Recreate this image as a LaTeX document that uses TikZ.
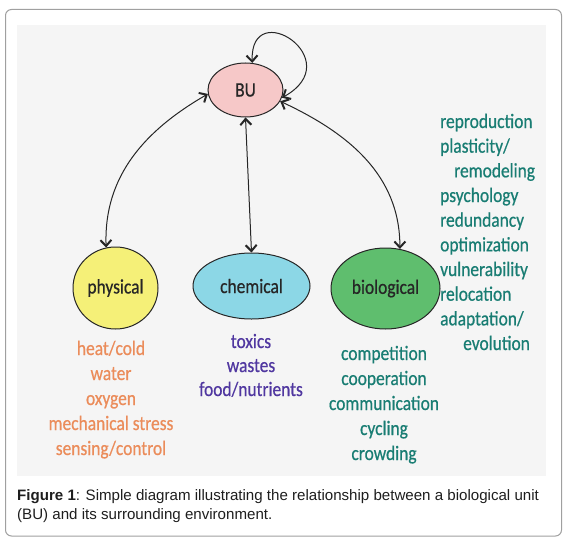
\documentclass[tikz,border=0pt]{standalone}
\usepackage{fontspec}
\setmainfont{Liberation Sans}
\newfontfamily\dfont[FakeStretch=0.85,FakeBold=0.6]{Carlito}
\newfontfamily\capfont{Liberation Sans}
\usetikzlibrary{arrows.meta,shapes.geometric}
\definecolor{tealtx}{RGB}{25,125,115}
\definecolor{orangetx}{RGB}{235,140,90}
\definecolor{purpletx}{RGB}{80,55,160}
\definecolor{bufill}{RGB}{246,200,200}
\definecolor{phyfill}{RGB}{245,240,120}
\definecolor{chemfill}{RGB}{140,215,230}
\definecolor{biofill}{RGB}{95,190,110}
\definecolor{bgc}{RGB}{245,245,245}
\definecolor{framec}{RGB}{160,160,160}
\definecolor{captx}{RGB}{30,30,30}
\begin{document}
\begin{tikzpicture}[x=1pt,y=1pt,
  dtext/.style={font=\dfont\fontsize{20.5}{24}\selectfont, inner sep=0pt},
  ell/.style={ellipse, draw=black!85, line width=1pt, inner sep=0pt,
    font=\dfont\fontsize{20.5}{24}\selectfont, text=black!85},
  conn/.style={draw=black!85, line width=1pt, <->},
  >={Straight Barb[length=6pt,width=11pt,line width=2pt]},
  capt/.style={font=\capfont\fontsize{15.1}{18}\selectfont, text=captx, inner sep=0pt, anchor=base west}
]
\useasboundingbox (0,0) rectangle (567,-543);
\draw[framec, line width=1pt, rounded corners=6pt] (5.5,-9.5) rectangle (561.5,-536);
\fill[bgc] (17,-25) rectangle (546,-476);

% main nodes
\node[ell, fill=bufill, minimum width=75pt, minimum height=54pt] (BU) at (245.5,-90) {BU};
\node[ell, fill=phyfill, minimum width=85pt, minimum height=82pt] (phy) at (115.5,-288) {physical};
\node[ell, fill=chemfill, minimum width=117pt, minimum height=66pt] (chem) at (251.5,-286) {chemical};
\node[ell, fill=biofill, minimum width=109pt, minimum height=81pt] (bio) at (385.5,-288.5) {biological};

% connectors
\draw[conn] (BU.186) to[out=210,in=92] (phy.103);
\draw[conn] (BU.south) -- (chem.north);
\draw[conn] (BU.-18) to[out=-25,in=90] (bio.70);
\draw[conn] (BU.76) .. controls (250,5) and (350,-60) .. (BU.-12);

% right list
\foreach \t/\dx [count=\i] in {reproduction/0, plasticity\slash/0, remodeling/14, psychology/0, redundancy/0, optimization/0, vulnerability/0, relocation/0, adaptation\slash/0, evolution/23}
  \node[dtext, text=tealtx, anchor=base west] (r\i) at (440+\dx, -128-24.67*\i+24.67) {\t};

% physical list
\foreach \t [count=\i] in {heat\slash cold, water, oxygen, mechanical stress, sensing\slash control}
  \node[dtext, text=orangetx, anchor=base] (p\i) at (111, -355-25*\i+25) {\t};

% chemical list
\foreach \t [count=\i] in {toxics, wastes, food\slash nutrients}
  \node[dtext, text=purpletx, anchor=base] (c\i) at (251, -348-24*\i+24) {\t};

% biological list
\foreach \t [count=\i] in {competition, cooperation, communication, cycling, crowding}
  \node[dtext, text=tealtx, anchor=base] (b\i) at (384, -360-25*\i+25) {\t};

% caption
\node[capt] (cap1) at (17,-500) {\textbf{Figure 1}: Simple diagram illustrating the relationship between a biological unit};
\node[capt] (cap2) at (17,-519) {(BU) and its surrounding environment.};
\end{tikzpicture}
\end{document}
